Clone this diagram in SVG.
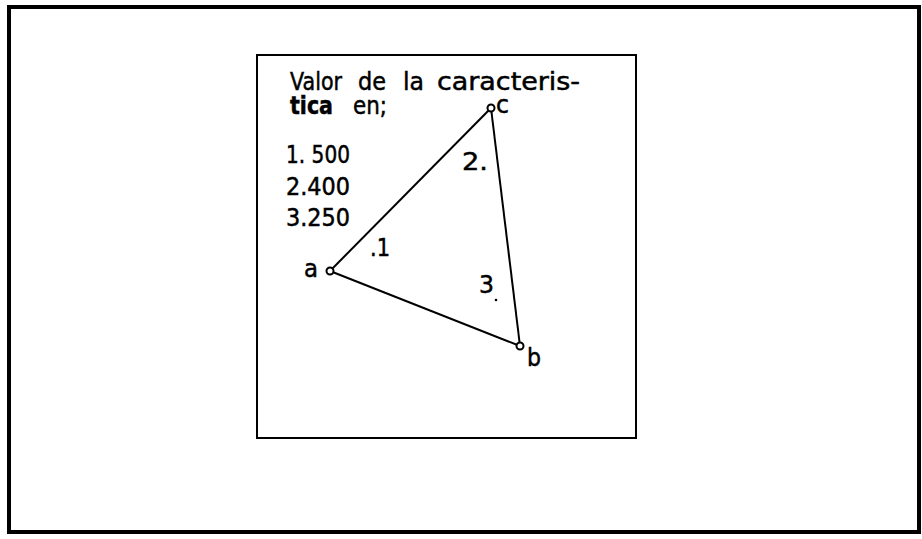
<svg xmlns="http://www.w3.org/2000/svg" width="922" height="539" viewBox="0 0 922 539">
<style>
.t{font-family:"DejaVu Sans","Liberation Sans",sans-serif;font-size:24px;fill:#000;stroke:#000;stroke-width:0.5}
.frame{fill:none;stroke:#000}
.edge{stroke:#000;stroke-width:2;fill:none}
.v{fill:#fff;stroke:#000;stroke-width:2}
</style>
<rect width="922" height="539" fill="#fff"/>
<rect class="frame" x="9" y="7" width="910" height="525" stroke-width="4"/>
<rect class="frame" x="257" y="55" width="379" height="383" stroke-width="2"/>
<g id="legend">
<text class="t" x="290" y="90" textLength="52" lengthAdjust="spacingAndGlyphs">Valor</text>
<text class="t" x="358" y="90" textLength="28" lengthAdjust="spacingAndGlyphs">de</text>
<text class="t" x="403" y="90" textLength="21" lengthAdjust="spacingAndGlyphs">la</text>
<text class="t" x="437" y="90" textLength="143" lengthAdjust="spacingAndGlyphs">caracteris-</text>
<text class="t" x="290" y="114" textLength="43" lengthAdjust="spacingAndGlyphs" font-weight="bold">tica</text>
<text class="t" x="353" y="114" textLength="34" lengthAdjust="spacingAndGlyphs">en;</text>
<text class="t" x="286" y="163" textLength="64" lengthAdjust="spacingAndGlyphs">1. 500</text>
<text class="t" x="286" y="195" textLength="64" lengthAdjust="spacingAndGlyphs">2.400</text>
<text class="t" x="286" y="226" textLength="64" lengthAdjust="spacingAndGlyphs">3.250</text>
</g>
<g id="connectors">
<line class="edge" x1="330" y1="271" x2="491" y2="108"/>
<line class="edge" x1="491" y1="108" x2="520" y2="346"/>
<line class="edge" x1="330" y1="271" x2="520" y2="346"/>
</g>
<g id="node-a">
<circle class="v" cx="330" cy="271" r="3.5"/>
<text class="t" x="304" y="277" textLength="14" lengthAdjust="spacingAndGlyphs">a</text>
</g>
<g id="node-c">
<circle class="v" cx="491" cy="108" r="3.5"/>
<text class="t" x="496" y="113" textLength="13" lengthAdjust="spacingAndGlyphs">c</text>
</g>
<g id="node-b">
<circle class="v" cx="520" cy="346" r="3.5"/>
<text class="t" x="527" y="366" textLength="14" lengthAdjust="spacingAndGlyphs">b</text>
</g>
<g id="labels">
<text class="t" x="370" y="256" textLength="20" lengthAdjust="spacingAndGlyphs">.1</text>
<text class="t" x="462" y="170" textLength="26" lengthAdjust="spacingAndGlyphs">2.</text>
<text class="t" x="479" y="293" textLength="15" lengthAdjust="spacingAndGlyphs">3</text>
<circle cx="496" cy="300" r="1.3" fill="#000"/>
</g>
</svg>
